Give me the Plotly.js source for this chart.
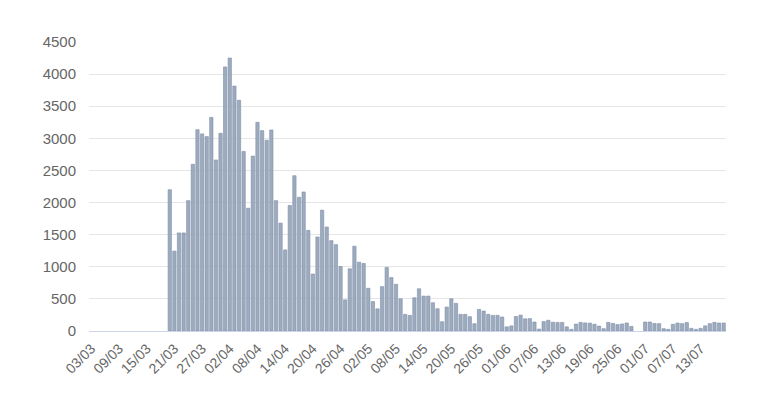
<!DOCTYPE html>
<html>
<head>
<meta charset="utf-8">
<script src="https://cdn.plot.ly/plotly-3.0.1.min.js"></script>
<style>
html,body{margin:0;padding:0;background:#fff;}
#chart{width:765px;height:402px;}
</style>
</head>
<body>
<div id="chart"></div>
<script>
const dates = [
"03/03","04/03","05/03","06/03","07/03","08/03","09/03","10/03","11/03","12/03","13/03","14/03","15/03","16/03","17/03","18/03","19/03","20/03","21/03","22/03","23/03","24/03","25/03","26/03","27/03","28/03","29/03","30/03","31/03",
"01/04","02/04","03/04","04/04","05/04","06/04","07/04","08/04","09/04","10/04","11/04","12/04","13/04","14/04","15/04","16/04","17/04","18/04","19/04","20/04","21/04","22/04","23/04","24/04","25/04","26/04","27/04","28/04","29/04","30/04",
"01/05","02/05","03/05","04/05","05/05","06/05","07/05","08/05","09/05","10/05","11/05","12/05","13/05","14/05","15/05","16/05","17/05","18/05","19/05","20/05","21/05","22/05","23/05","24/05","25/05","26/05","27/05","28/05","29/05","30/05","31/05",
"01/06","02/06","03/06","04/06","05/06","06/06","07/06","08/06","09/06","10/06","11/06","12/06","13/06","14/06","15/06","16/06","17/06","18/06","19/06","20/06","21/06","22/06","23/06","24/06","25/06","26/06","27/06","28/06","29/06","30/06",
"01/07","02/07","03/07","04/07","05/07","06/07","07/07","08/07","09/07","10/07","11/07","12/07","13/07","14/07","15/07","16/07","17/07","18/07"
];
const values = [
0,0,0,0,0,0,0,0,0,0,0,0,0,0,0,0,0,
2200,1244,1527,1527,2030,2596,3135,3069,3027,3326,
2663,3079,4112,4251,3814,3593,2796,1912,2724,3249,
3120,2971,3130,2030,1680,1263,1954,2418,2083,2165,
1567,887,1464,1882,1619,1407,1345,1005,485,969,
1320,1072,1052,665,459,345,691,990,832,728,
502,259,243,518,658,544,544,440,347,145,
373,502,430,259,259,223,114,337,311,259,
243,243,218,65,80,225,247,190,193,140,
30,147,167,137,133,133,65,26,108,134,
126,123,105,77,36,134,118,100,110,125,
72,0,0,140,140,118,115,36,26,105,
124,115,132,41,26,41,80,115,135,125,
125
];
const tickLabels = ["03/03","09/03","15/03","21/03","27/03","02/04","08/04","14/04","20/04","26/04","02/05","08/05","14/05","20/05","26/05","01/06","07/06","13/06","19/06","25/06","01/07","07/07","13/07"];
const yTicks = [0,500,1000,1500,2000,2500,3000,3500,4000,4500];

const trace = {
  type: 'bar',
  x: dates,
  y: values,
  marker: {
    color: '#9dabbf',
    line: {color: '#7f8ea7', width: values.map(v => v > 0 ? 0.6 : 0)}
  },
  hoverinfo: 'x+y'
};
const layout = {
  width: 765, height: 402,
  margin: {l: 89, r: 39, t: 42, b: 71},
  paper_bgcolor: '#fff', plot_bgcolor: '#fff',
  showlegend: false,
  bargap: 0.28,
  font: {family: 'Liberation Sans, Arial, sans-serif', size: 14, color: '#666'},
  xaxis: {
    type: 'category',
    range: [-0.5, dates.length - 0.5],
    tickmode: 'array',
    tickvals: tickLabels,
    ticktext: tickLabels,
    tickangle: -45,
    showgrid: false,
    showline: true,
    linecolor: '#ccd6eb',
    linewidth: 1,
    ticks: '',
    ticklabelstandoff: 3,
    tickfont: {size: 14, color: '#666'},
    fixedrange: true
  },
  yaxis: {
    range: [0, 4500],
    tickmode: 'array',
    tickvals: yTicks,
    ticktext: yTicks.map(String),
    showgrid: true,
    gridcolor: '#e6e6e6',
    zeroline: false,
    showline: false,
    ticks: '',
    ticklabelstandoff: 12,
    tickfont: {size: 15, color: '#666'},
    fixedrange: true
  }
};
Plotly.newPlot('chart', [trace], layout, {displayModeBar: false, staticPlot: true});
</script>
</body>
</html>
